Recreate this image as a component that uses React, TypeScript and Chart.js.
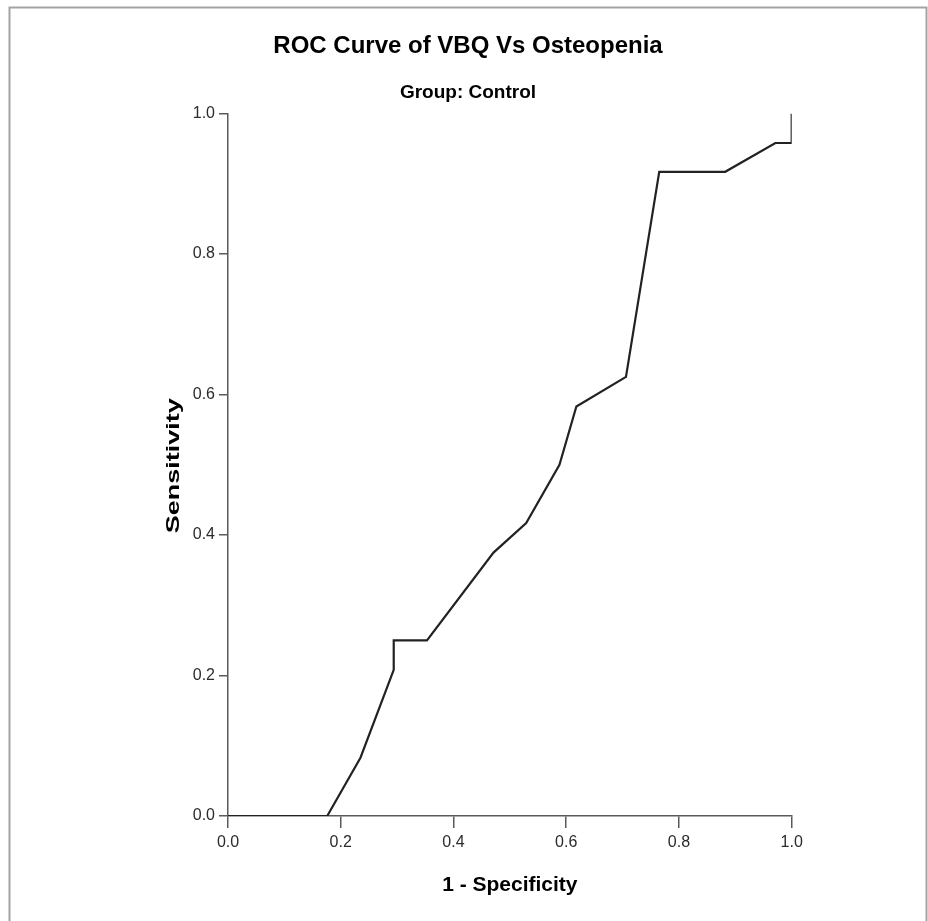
import { useEffect, useRef } from "react";
import { Chart, registerables } from "chart.js";

Chart.register(...registerables);

// ROC curve points
const falsePositiveRate = [0, 0.176, 0.235, 0.294, 0.294, 0.353, 0.471, 0.529, 0.588, 0.618, 0.706, 0.765, 0.882, 0.971, 1.0, 1.0];
const sensitivity = [0, 0, 0.083, 0.208, 0.25, 0.25, 0.375, 0.417, 0.5, 0.583, 0.625, 0.917, 0.917, 0.958, 0.958, 1.0];

const axisMin = 0;
const axisMax = 1;
const axisStep = 0.2;

const titleText = "ROC Curve of VBQ Vs Osteopenia";
const subtitleText = "Group: Control";
const xTitleText = "1 - Specificity";
const yTitleText = "Sensitivity";

const FONT = '"Liberation Sans", Arial, sans-serif';

export default function App() {
  const canvasRef = useRef<HTMLCanvasElement>(null);

  useEffect(() => {
    const canvas = canvasRef.current;
    if (!canvas) return;

    const framePlugin = {
      id: "frameAndYTitle",
      beforeDraw(chart: any) {
        const { ctx, width, height } = chart;
        ctx.save();
        ctx.fillStyle = "#ffffff";
        ctx.fillRect(0, 0, width, height);
        ctx.strokeStyle = "#a3a3a3";
        ctx.lineWidth = 2;
        ctx.beginPath();
        ctx.moveTo(9.5, height + 5);
        ctx.lineTo(9.5, 7.5);
        ctx.lineTo(926.5, 7.5);
        ctx.lineTo(926.5, height + 5);
        ctx.stroke();
        ctx.restore();
      },
      afterDraw(chart: any) {
        const { ctx, chartArea } = chart;
        const cy = (chartArea.top + chartArea.bottom) / 2 + 1;
        ctx.save();
        ctx.translate(178.5, cy);
        ctx.rotate(-Math.PI / 2);
        ctx.scale(1.5, 1);
        ctx.font = `bold 18px ${FONT}`;
        ctx.fillStyle = "#000";
        ctx.textAlign = "center";
        ctx.textBaseline = "alphabetic";
        ctx.fillText(yTitleText, 0, 0);
        ctx.restore();
      },
    };

    const points = falsePositiveRate.map((x, i) => ({ x, y: sensitivity[i] }));
    const tickFmt = (v: any) => Number(v).toFixed(1);

    const chart = new Chart(canvas, {
      type: "scatter",
      data: {
        datasets: [
          {
            data: points,
            showLine: true,
            borderColor: "#222222",
            borderWidth: 2.2,
            pointRadius: 0,
            pointHoverRadius: 0,
            tension: 0,
            fill: false,
          },
        ],
      },
      options: {
        responsive: false,
        animation: false,
        layout: { padding: { left: 144.3, right: 136.3, top: 0, bottom: 0 } },
        plugins: {
          legend: { display: false },
          tooltip: { enabled: false },
          title: {
            display: true,
            text: titleText,
            color: "#000",
            font: { family: FONT, size: 24, weight: "bold", lineHeight: 1.2 },
            padding: { top: 31.6, bottom: 20.7 },
          },
          subtitle: {
            display: true,
            text: subtitleText,
            color: "#000",
            font: { family: FONT, size: 19, weight: "bold", lineHeight: 1.2 },
            padding: { top: 0, bottom: 9.6 },
          },
        },
        scales: {
          x: {
            type: "linear",
            min: axisMin,
            max: axisMax,
            afterFit: (s: any) => {
              s.height = 105;
            },
            ticks: {
              stepSize: axisStep,
              autoSkip: false,
              maxRotation: 0,
              callback: tickFmt,
              color: "#2b2b2b",
              padding: 5,
              font: { family: FONT, size: 16 },
            },
            grid: {
              display: true,
              drawOnChartArea: false,
              drawTicks: true,
              tickLength: 12,
              color: "#5a5a5a",
              lineWidth: 1.5,
            },
            border: { display: true, color: "#5a5a5a", width: 1.5 },
            title: {
              display: true,
              text: xTitleText,
              color: "#000",
              font: { family: FONT, size: 21, weight: "bold", lineHeight: 1.2 },
              padding: { top: 0, bottom: 23.4 },
            },
          },
          y: {
            type: "linear",
            min: axisMin,
            max: axisMax,
            afterFit: (s: any) => {
              s.width = 83.7;
            },
            ticks: {
              stepSize: axisStep,
              autoSkip: false,
              callback: tickFmt,
              color: "#2b2b2b",
              padding: 4,
              font: { family: FONT, size: 16 },
            },
            grid: {
              display: true,
              drawOnChartArea: false,
              drawTicks: true,
              tickLength: 9,
              color: "#5a5a5a",
              lineWidth: 1.5,
            },
            border: { display: true, color: "#5a5a5a", width: 1.5 },
            title: { display: false },
          },
        },
      },
      plugins: [framePlugin],
    });

    return () => {
      chart.destroy();
    };
  }, []);

  return (
    <div style={{ position: "absolute", left: 0, top: 0, width: 928, height: 921 }}>
      <canvas ref={canvasRef} width={928} height={921} style={{ width: 928, height: 921, display: "block" }} />
    </div>
  );
}
